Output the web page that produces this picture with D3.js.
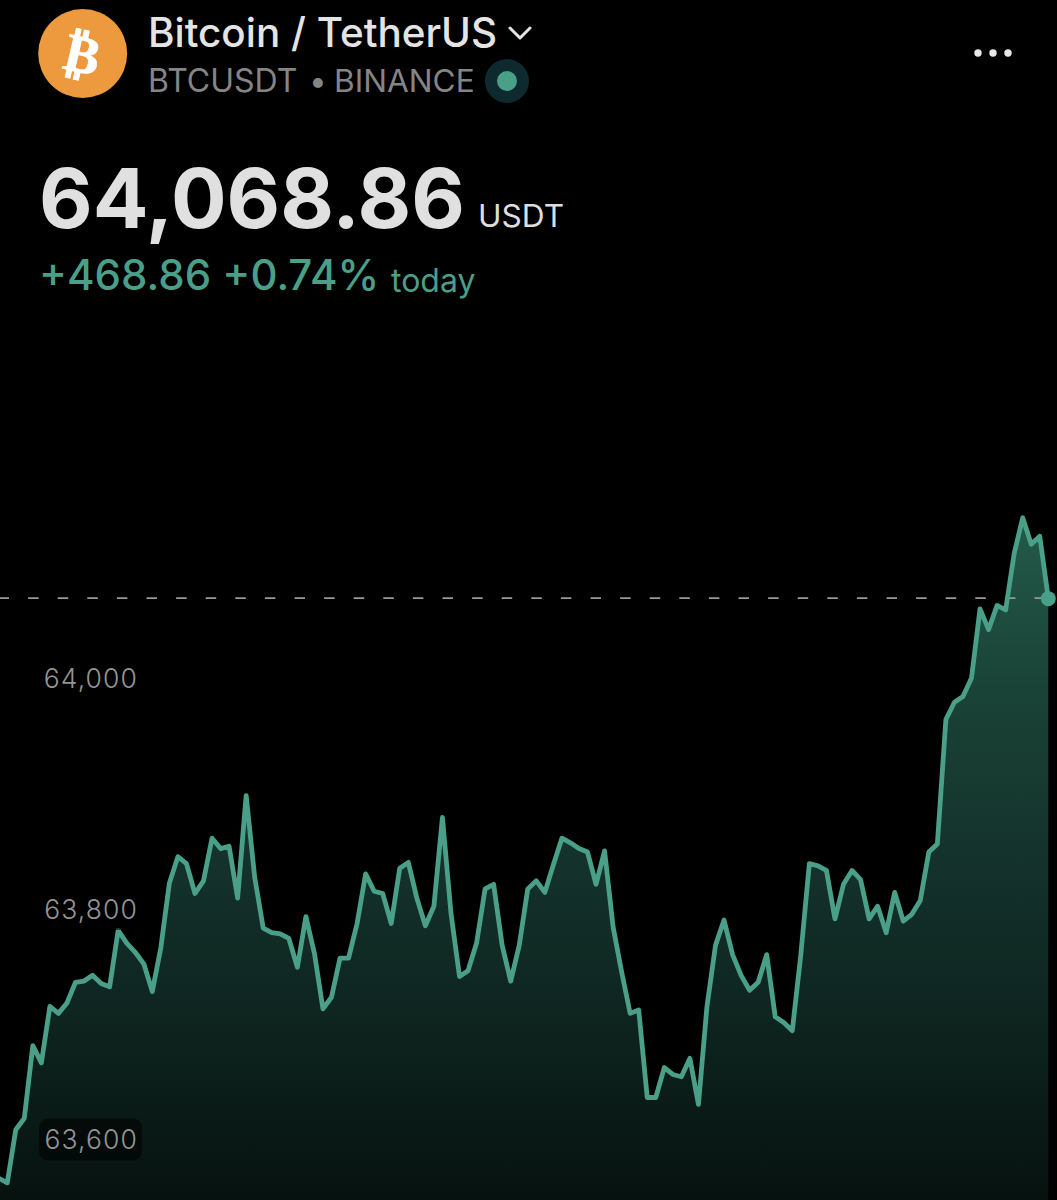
<!DOCTYPE html>
<html>
<head>
<meta charset="utf-8">
<script src="https://cdn.jsdelivr.net/npm/d3@7"></script>
<style>
html,body{margin:0;padding:0;background:#000;overflow:hidden}
svg{display:block}
text{font-family:Inter,"Noto Sans",sans-serif}
</style>
</head>
<body>
<svg id="c" width="1057" height="1200"></svg>
<script>
const title = "Bitcoin / TetherUS";
const symbolLine = ["BTCUSDT", "•", "BINANCE"];
const priceText = "64,068.86";
const unitText = "USDT";
const changeText = "+468.86 +0.74%";
const todayText = "today";
const tickValues = [63600, 63800, 64000];
const lastPrice = 64068.86;
const prices = [
63566,63562,63608,63618,63681,63666,63715,63709,63718,63736,
63737,63742,63735,63732,63781,63770,63762,63752,63728,63766,
63822,63845,63839,63813,63824,63861,63852,63854,63809,63898,
63827,63783,63779,63778,63774,63749,63793,63761,63713,63723,
63757,63757,63787,63830,63815,63813,63787,63835,63840,63809,
63785,63802,63879,63796,63741,63746,63770,63817,63821,63768,
63737,63768,63817,63824,63814,63838,63861,63857,63852,63849,
63821,63850,63784,63745,63709,63712,63636,63636,63662,63656,
63654,63670,63630,63715,63768,63790,63760,63742,63729,63736,
63760,63706,63701,63694,63760,63839,63837,63833,63791,63821,
63833,63825,63791,63802,63779,63814,63789,63795,63807,63849,
63856,63964,63979,63984,64000,64060,64042,64063,64059,64108,
64139,64116,64123,64068.86];

const svg = d3.select("#c");
const x = d3.scaleLinear().domain([0, prices.length - 1]).range([-1.3, 1048.3]);
const y = d3.scaleLinear().domain([63600, 64000]).range([1139, 678]);
const bottom = 1200;

const defs = svg.append("defs");
const grad = defs.append("linearGradient").attr("id","fill")
  .attr("gradientUnits","userSpaceOnUse").attr("x1",0).attr("x2",0).attr("y1",518).attr("y2",1200);
[[0,"#235a4a"],[0.25,"#1a4337"],[0.5,"#14322b"],[0.72,"#0e2520"],[1,"#07120f"]]
  .forEach(([o,c])=>grad.append("stop").attr("offset",o).attr("stop-color",c));

const area = d3.area().x((d,i)=>x(i)).y0(bottom).y1(d=>y(d));
const line = d3.line().x((d,i)=>x(i)).y(d=>y(d));

svg.append("path").datum(prices).attr("d",area).attr("fill","url(#fill)");

svg.append("line")
  .attr("x1",-1.5).attr("x2",1044).attr("y1",y(lastPrice)-0.6).attr("y2",y(lastPrice)-0.6)
  .attr("stroke","#999").attr("stroke-width",1.7).attr("stroke-dasharray","10.5 19.1");

svg.append("path").datum(prices).attr("d",line).attr("fill","none")
  .attr("stroke","#4a9f88").attr("stroke-width",4.8).attr("stroke-linejoin","round");

svg.append("circle").attr("cx",x(prices.length-1)).attr("cy",y(lastPrice)).attr("r",7.5).attr("fill","#4a9f88");

// y axis labels
const axis = svg.append("g").attr("transform","translate(138,0)")
  .call(d3.axisLeft(y).tickValues(tickValues).tickSize(0).tickPadding(0).tickFormat(d3.format(",")));
axis.select(".domain").remove();
axis.selectAll(".tick").insert("rect","text")
  .attr("x",-99).attr("y",-21).attr("width",103).attr("height",42).attr("rx",9)
  .attr("fill","#000").attr("fill-opacity",0.55);
axis.selectAll("text")
  .attr("font-family","Inter,sans-serif").attr("font-size",26.5).attr("font-weight",300)
  .attr("letter-spacing",1.1).attr("fill","#949494").attr("dy",".36em");

// header: logo
const logo = svg.append("g").attr("transform","translate(82.7,53.5)");
logo.append("circle").attr("r",44.5).attr("fill","#ec9a3d");
logo.append("text").attr("text-anchor","middle").attr("y",19)
  .attr("transform","rotate(13)")
  .attr("font-size",53).attr("font-weight",700).attr("fill","#fff")
  .attr("stroke","#fff").attr("stroke-width",0.8)
  .style("font-family","'DejaVu Sans'").text("₿");

svg.append("text").attr("x",148).attr("y",47).attr("font-size",40.4).attr("font-weight",500)
  .attr("fill","#e4e4e4").text(title);
svg.append("path").attr("d","M510 28 L520 38 L530 28").attr("fill","none")
  .attr("stroke","#e4e4e4").attr("stroke-width",3).attr("stroke-linecap","round").attr("stroke-linejoin","round");

const subX = [148, 309, 334];
const subSize = [32, 31.6, 31.6];
symbolLine.forEach((t,i)=>{
  svg.append("text").attr("x",subX[i]).attr("y",92).attr("font-size",subSize[i]).attr("font-weight",400)
    .attr("fill","#858585").text(t);
});
svg.append("circle").attr("cx",507).attr("cy",81).attr("r",22).attr("fill","#0f2a2e");
svg.append("circle").attr("cx",507).attr("cy",81).attr("r",10).attr("fill","#4a9f88");

[978,993,1008].forEach(cx=>svg.append("circle").attr("cx",cx).attr("cy",53).attr("r",3.7).attr("fill","#e8e8e8"));

svg.append("text").attr("x",39).attr("y",228).attr("font-size",82.6).attr("font-weight",700)
  .attr("fill","#e0e0e0").text(priceText);
svg.append("text").attr("x",478).attr("y",227).attr("font-size",31.6).attr("font-weight",400)
  .attr("fill","#dedede").text(unitText);
svg.append("text").attr("x",39).attr("y",290).attr("font-size",42).attr("font-weight",500)
  .attr("fill","#4a9f88").text(changeText);
svg.append("text").attr("x",391).attr("y",292).attr("font-size",32).attr("font-weight",400)
  .attr("fill","#4a9f88").text(todayText);
</script>
</body>
</html>
